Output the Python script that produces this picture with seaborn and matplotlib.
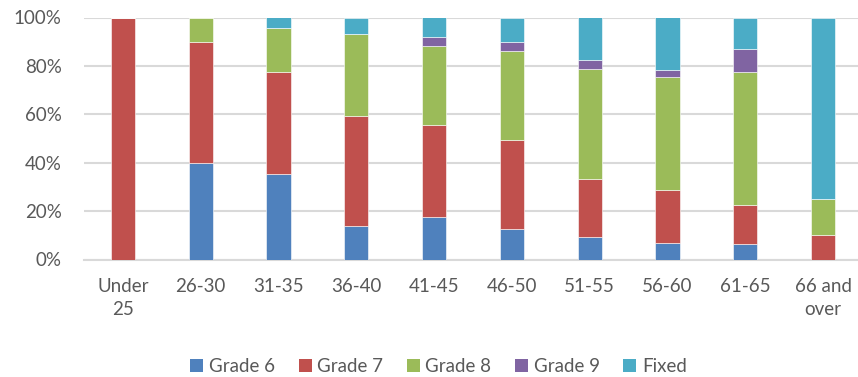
import numpy as np
import pandas as pd
import matplotlib
matplotlib.use("Agg")
import matplotlib.pyplot as plt
from matplotlib.patches import Patch
import seaborn as sns

# Age bands and share of staff in each grade (percent of band)
age_bands = ["Under\n25", "26-30", "31-35", "36-40", "41-45",
             "46-50", "51-55", "56-60", "61-65", "66 and\nover"]
grade_6 = [0, 40, 35.5, 14, 17.4, 12.4, 9.1, 7, 6.2, 0]
grade_7 = [100, 50, 42, 45.3, 38.2, 36.8, 24.1, 21.8, 16.4, 10]
grade_8 = [0, 10, 18, 33.7, 32.8, 36.9, 45.4, 46.5, 54.8, 15]
grade_9 = [0, 0, 0, 0, 3.7, 3.7, 3.9, 2.8, 9.5, 0]
fixed = [0, 0, 4.5, 7, 7.9, 10.2, 17.5, 21.9, 13.1, 75]

series_names = ["Grade 6", "Grade 7", "Grade 8", "Grade 9", "Fixed"]
series_values = [grade_6, grade_7, grade_8, grade_9, fixed]
series_colors = ["#4F81BD", "#C0504D", "#9BBB59", "#8064A2", "#4BACC6"]

y_ticks = [0, 20, 40, 60, 80, 100]

sns.set_theme(style="white")
plt.rcParams["font.family"] = ["Lato", "DejaVu Sans"]
text_color = "#595959"
grid_color = "#D9D9D9"

W, H = 858, 377
fig = plt.figure(figsize=(W / 100, H / 100), dpi=100)
ax = fig.add_axes([84 / W, 1 - 259.5 / H, 778 / W, 242 / H])

bottom = np.zeros(len(age_bands))
for name, vals, col in zip(series_names, series_values, series_colors):
    df = pd.DataFrame({"band": age_bands, "share": vals})
    sns.barplot(data=df, x="band", y="share", order=age_bands, color=col,
                width=0.31, bottom=bottom.copy(), ax=ax, saturation=1,
                edgecolor="white", linewidth=0.4, errorbar=None, zorder=3)
    bottom += np.asarray(vals, dtype=float)

ax.set_xlim(-0.5, len(age_bands) - 0.5)
ax.set_ylim(0, 100)
ax.set_yticks(y_ticks)
ax.set_yticklabels([f"{t}%" for t in y_ticks])
ax.yaxis.grid(True, color=grid_color, linewidth=1.5, zorder=0)
ax.xaxis.grid(False)
ax.set_axisbelow(True)
for side in ["top", "right", "left"]:
    ax.spines[side].set_visible(False)
ax.spines["bottom"].set_color(grid_color)
ax.spines["bottom"].set_linewidth(1.5)
ax.set_xlabel("")
ax.set_ylabel("")
ax.tick_params(axis="y", length=0, pad=16, labelsize=13.5, labelcolor=text_color)
ax.tick_params(axis="x", length=0, pad=13, labelsize=13.5, labelcolor=text_color)
for lbl in ax.get_xticklabels():
    lbl.set_linespacing(1.45)
    lbl.set_horizontalalignment("center")

handles = [Patch(facecolor=c, edgecolor="none", label=n)
           for n, c in zip(series_names, series_colors)]
fig.legend(handles=handles, loc="center", ncol=5,
           bbox_to_anchor=(438.5 / W, 1 - 366.5 / H), frameon=False,
           fontsize=13.5, labelcolor=text_color, handlelength=0.7,
           handleheight=0.7, handletextpad=0.3, columnspacing=1.25,
           borderpad=0, borderaxespad=0)

fig.savefig("out.png", dpi=100)
